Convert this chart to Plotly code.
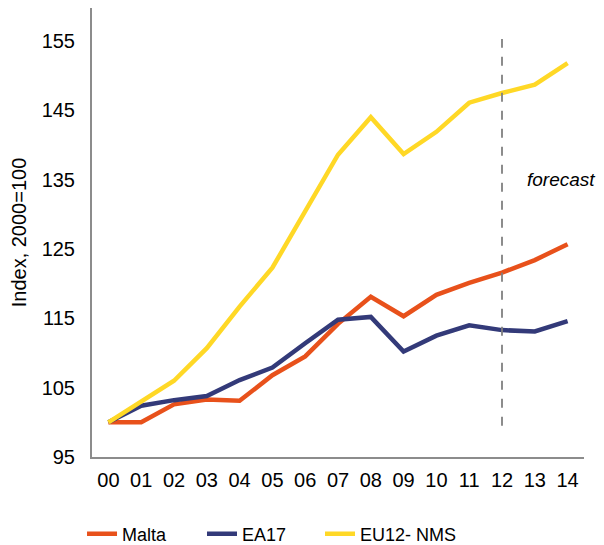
import plotly.graph_objects as go

# datos
anios = ['00', '01', '02', '03', '04', '05', '06', '07', '08', '09', '10', '11', '12', '13', '14']
malta = [100.0, 100.0, 102.6, 103.3, 103.1, 106.8, 109.5, 114.2, 118.1, 115.3, 118.4, 120.1, 121.6, 123.4, 125.7]
ea17 = [100.0, 102.4, 103.2, 103.8, 106.1, 107.9, 111.4, 114.8, 115.2, 110.2, 112.5, 114.0, 113.3, 113.1, 114.6]
eu12_nms = [100.0, 103.0, 106.0, 110.7, 116.7, 122.3, 130.4, 138.6, 144.0, 138.7, 141.9, 146.1, 147.5, 148.7, 151.8]

series = [
    ('Malta', malta, '#E8511B'),
    ('EA17', ea17, '#333A79'),
    ('EU12- NMS', eu12_nms, '#FFD826'),
]

# una leyenda por serie para fijar la posicion de cada entrada
leyendas = ['legend', 'legend2', 'legend3']
pos_leyenda = [0.1242, 0.3255, 0.5235]

fig = go.Figure()
for (nombre, valores, color), ley in zip(series, leyendas):
    fig.add_trace(go.Scatter(
        x=anios, y=valores, name=nombre, mode='lines',
        line=dict(color=color, width=4.5), legend=ley,
    ))

# linea de pronostico
fig.add_shape(type='line', xref='x', yref='y', x0='12', x1='12', y0=99.5, y1=155.3,
              line=dict(color='#808080', width=1.8, dash='dash'))
fig.add_annotation(x=12.7, y=135, xref='x', yref='y', text='<i>forecast</i>',
                   showarrow=False, xanchor='left', font=dict(size=19, color='black'))

ley_base = dict(orientation='h', xref='container', yref='container', y=0.0205,
                xanchor='left', yanchor='middle', font=dict(size=18))

# la pagina tiene 8px de margen en el body, se ajusta el tamano para que quepa
fig.update_layout(
    width=596, height=537,
    paper_bgcolor='white', plot_bgcolor='white',
    margin=dict(l=84, r=20, t=0, b=88),
    font=dict(family='Liberation Sans, Arial', size=20, color='black'),
    showlegend=True,
    legend=dict(ley_base, x=pos_leyenda[0]),
    legend2=dict(ley_base, x=pos_leyenda[1]),
    legend3=dict(ley_base, x=pos_leyenda[2]),
    xaxis=dict(range=[-0.5, 14.5], showgrid=False, zeroline=False, showline=True,
               linecolor='#8C8C8C', linewidth=2, ticks='', automargin=False,
               ticklabelstandoff=4),
    yaxis=dict(range=[95, 159.76], tickvals=[95, 105, 115, 125, 135, 145, 155],
               showgrid=False, zeroline=False, showline=True, linecolor='#8C8C8C',
               linewidth=2, ticks='', ticklabelstandoff=11, automargin=False,
               title=dict(text='Index, 2000=100', font=dict(size=20), standoff=14)),
)

fig.write_html('out.html')
